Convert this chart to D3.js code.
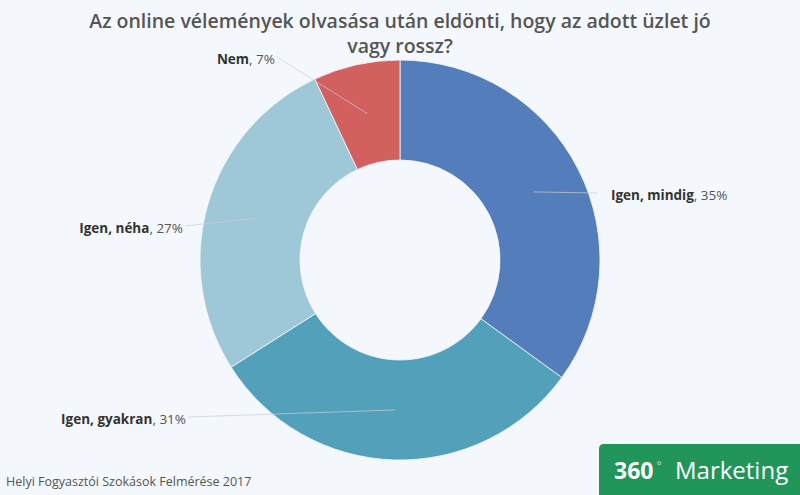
<!DOCTYPE html>
<html>
<head>
<meta charset="utf-8">
<script src="https://cdn.jsdelivr.net/npm/d3@7"></script>
<style>
  html, body { margin: 0; padding: 0; background: #f4f8fc; }
  svg { display: block; }
</style>
</head>
<body>
<div id="chart"></div>
<script>
// Chart data
const categories = ['Igen, mindig', 'Igen, gyakran', 'Igen, néha', 'Nem'];
const values = [35, 31, 27, 7];
const colors = ['#547dbb', '#53a0bb', '#9ec8d7', '#d2605e'];

const titleLines = ['Az online vélemények olvasása után eldönti, hogy az adott üzlet jó', 'vagy rossz?'];
const sourceText = 'Helyi Fogyasztói Szokások Felmérése 2017';

// label anchors relative to pie center (layout only)
const labelAnchors = [[211, -65], [-214, 159], [-217, -32], [-125, -201]];

const width = 800, height = 495;
const cx = 400, cy = 260, outerR = 200, innerR = 100;

const svg = d3.select('#chart')
    .append('svg')
    .attr('width', width)
    .attr('height', height)
    .style('background-color', '#f4f8fc')
    .style('font-family', '"Open Sans", sans-serif');

// Title
svg.append('g')
    .selectAll('text')
    .data(titleLines)
    .join('text')
    .attr('x', cx)
    .attr('y', (d, i) => 28 + i * 25)
    .attr('text-anchor', 'middle')
    .style('font-size', '19.5px')
    .style('font-weight', 600)
    .style('fill', '#555')
    .text(d => d);

const pieData = d3.pie().sort(null)(values);
const arc = d3.arc().innerRadius(innerR).outerRadius(outerR);
const midArc = d3.arc().innerRadius(150).outerRadius(150);

const g = svg.append('g').attr('transform', `translate(${cx},${cy})`);

g.selectAll('path')
    .data(pieData)
    .join('path')
    .attr('d', arc)
    .style('fill', (d, i) => colors[i])
    .style('stroke', '#f4f8fc')
    .style('stroke-width', 0.8);

// Leader lines
g.selectAll('line')
    .data(pieData)
    .join('line')
    .attr('x1', d => midArc.centroid(d)[0])
    .attr('y1', d => midArc.centroid(d)[1])
    .attr('x2', (d, i) => labelAnchors[i][0] + (labelAnchors[i][0] > 0 ? -14 : 2))
    .attr('y2', (d, i) => labelAnchors[i][1] - 2)
    .style('stroke', '#c8cdd4')
    .style('stroke-width', 1)
    .style('stroke-opacity', 0.7);

// Labels
const label = g.selectAll('text.lbl')
    .data(pieData)
    .join('text')
    .attr('class', 'lbl')
    .attr('x', (d, i) => labelAnchors[i][0])
    .attr('y', (d, i) => labelAnchors[i][1] + 4.5)
    .attr('text-anchor', (d, i) => labelAnchors[i][0] > 0 ? 'start' : 'end')
    .style('font-size', '13.5px');

label.append('tspan')
    .style('font-weight', 'bold')
    .style('fill', '#333')
    .text((d, i) => categories[i]);
label.append('tspan')
    .style('fill', '#555')
    .text(d => ', ' + d.data + '%');

// Source
svg.append('text')
    .attr('x', 6)
    .attr('y', 486)
    .style('font-size', '12.5px')
    .style('fill', '#555')
    .text(sourceText);

// Logo box
svg.append('path')
    .attr('d', `M599,${height} V449 Q599,444 604,444 H${width} V${height} Z`)
    .style('fill', '#22955a');

const logo = svg.append('text')
    .attr('x', 614)
    .attr('y', 479)
    .style('fill', '#fff')
    .style('font-size', '23px');
logo.append('tspan').style('font-weight', 'bold').text('360');
logo.append('tspan').attr('dx', 3).attr('dy', -9).style('font-size', '12px').style('fill-opacity', 0.75).text('°');
logo.append('tspan').attr('x', 675).attr('dy', 9).style('font-size', '24px').text('Marketing');
</script>
</body>
</html>
